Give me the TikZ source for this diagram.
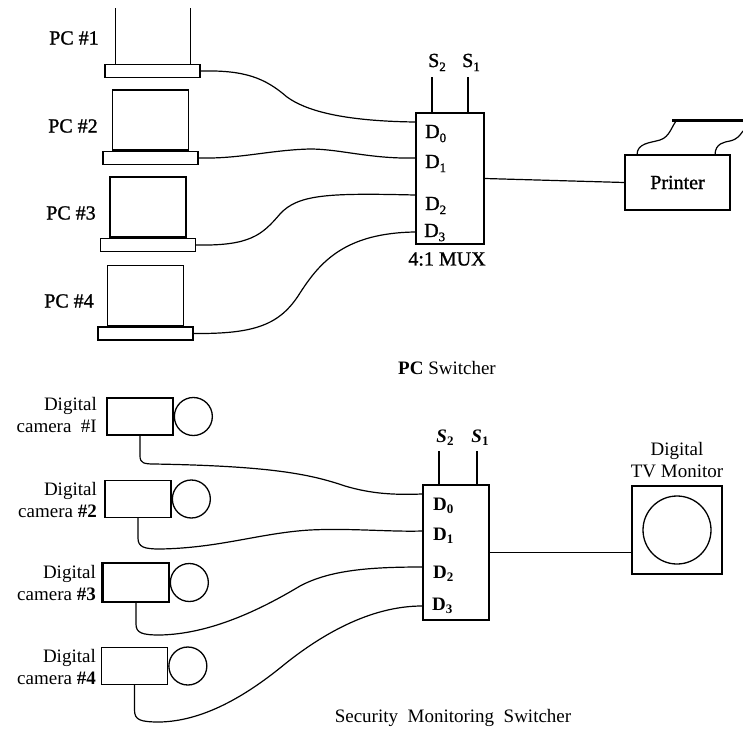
\documentclass[tikz,border=0pt]{standalone}
\usepackage{fontspec}
\setmainfont{Liberation Serif}
\newfontfamily\inkfont[FakeBold=1.2]{Liberation Serif}
\usetikzlibrary{positioning}
% lowered index for port and select names
\newcommand\portidx[1]{\raisebox{-0.45ex}{\fontsize{13}{13}\selectfont #1}}
\begin{document}
\begin{tikzpicture}[x=1pt,y=-1pt,
  wire/.style={line width=1.2pt, line cap=round, line join=round},
  box/.style={draw, rectangle, line width=1.4pt, inner sep=0pt},
  pcscreen/.style={box, minimum width=76pt, minimum height=60pt},
  pcbase/.style={box, minimum width=95pt, minimum height=13pt},
  muxbox/.style={draw, rectangle, line width=2pt, inner sep=0pt},
  selline/.style={line width=2.2pt},
  cambody/.style={box, minimum width=66pt, minimum height=37pt},
  lens/.style={draw, circle, line width=1.3pt, inner sep=0pt, minimum size=38pt},
  toplbl/.style={font=\inkfont\fontsize{20}{22}\selectfont, inner sep=0pt},
  botlbl/.style={font=\fontsize{19}{22}\selectfont, inner sep=0pt},
]
\useasboundingbox (0,0) rectangle (743,731);

% ---------------- PC switcher ----------------
\node[pcbase] (pc1base) at (152.5,71) {};
\draw[line width=1.4pt] ([xshift=-37pt]pc1base.north) -- ++(0,-56)
                        ([xshift=38pt]pc1base.north) -- ++(0,-56);
\node[pcbase] (pc2base) at (150.5,158) {};
\node[pcscreen, above=0pt of pc2base] (pc2) {};
\node[pcbase] (pc3base) at (148,245) {};
\node[pcscreen, above=0pt of pc3base] (pc3) {};
\node[pcbase] (pc4base) at (145.5,333.5) {};
\node[pcscreen, above=0pt of pc4base] (pc4) {};

\node[toplbl] (pc1lbl) at (74,38) {PC \#1};
\node[toplbl] (pc2lbl) at (73,126) {PC \#2};
\node[toplbl] (pc3lbl) at (71,213) {PC \#3};
\node[toplbl] (pc4lbl) at (69,301) {PC \#4};

\node[muxbox, minimum width=68pt, minimum height=131pt] (muxA) at (450,178.5) {};
\path (muxA.north west) ++(0,10)  coordinate (a0)
      (muxA.north west) ++(0,46)  coordinate (a1)
      (muxA.north west) ++(0,83)  coordinate (a2)
      (muxA.north west) ++(0,120) coordinate (a3)
      (muxA.north west) ++(17,0)  coordinate (sa2)
      (muxA.north west) ++(53,0)  coordinate (sa1);
\draw[selline] (sa2) -- ++(0,-35) coordinate (sa2top);
\draw[selline] (sa1) -- ++(0,-35) coordinate (sa1top);
\node[toplbl, anchor=base] at (437,67) {S\portidx{2}};
\node[toplbl, anchor=base] at (471,67) {S\portidx{1}};
\node[toplbl, anchor=base west] at (425,138) {D\portidx{0}};
\node[toplbl, anchor=base west] at (425,168) {D\portidx{1}};
\node[toplbl, anchor=base west] at (425,210) {D\portidx{2}};
\node[toplbl, anchor=base west] at (424,237) {D\portidx{3}};
\node[toplbl] (muxAlbl) at (447,259) {4:1 MUX};

\draw[wire] (pc1base.east) .. controls (245,70) and (265,78) .. (287,97)
            .. controls (305,110) and (340,121) .. (a0);
\draw[wire] (pc2base.east) .. controls (240,159) and (270,150) .. (310,149)
            .. controls (340,149) and (370,159) .. (a1);
\draw[wire] (pc3base.east) .. controls (250,246) and (262,235) .. (280,214)
            .. controls (298,194) and (330,193) .. (a2);
\draw[wire] (pc4base.east) .. controls (255,334) and (280,325) .. (300,293)
            .. controls (320,262) and (345,233) .. (a3);

% printer with its paper feed
\node[box, minimum width=105pt, minimum height=55pt, toplbl] (printer) at (677.5,182.5) {Printer};
\draw[wire] (muxA.east) -- (printer.west);
\draw[line width=3pt] (672,120) -- (743,120);
\draw[wire] (637,155) .. controls (637,143) and (650,143) .. (660,140)
            .. controls (670,137) and (672,125) .. (677,120);
\draw[wire] (715,155) .. controls (715,143) and (725,142) .. (730,141)
            .. controls (738,139) and (740,135) .. (743,131);

\node[botlbl] (title1) at (447,368) {\textbf{PC} Switcher};

% ---------------- Security monitoring switcher ----------------
\node[cambody] (cam1) at (140,416.5) {};
\node[lens, right=0pt of cam1] (lens1) {};
\node[cambody] (cam2) at (138,499) {};
\node[lens, right=0pt of cam2] (lens2) {};
\node[cambody, minimum height=39pt] (cam3) at (136,582.5) {};
\node[lens, right=0pt of cam3] (lens3) {};
\draw[line width=2.6pt] (cam3.north west) -- (cam3.south west);
\node[cambody] (cam4) at (134.5,666) {};
\node[lens, right=0pt of cam4] (lens4) {};

\node[botlbl, anchor=east, align=right] (cam1lbl) at (97,415) {Digital\\camera~ \#I};
\node[botlbl, anchor=east, align=right] (cam2lbl) at (97,500) {Digital\\camera \textbf{\#2}};
\node[botlbl, anchor=east, align=right] (cam3lbl) at (96,583) {Digital\\camera \textbf{\#3}};
\node[botlbl, anchor=east, align=right] (cam4lbl) at (96,667) {Digital\\camera \textbf{\#4}};

\node[muxbox, minimum width=66pt, minimum height=135pt] (muxB) at (456,552.5) {};
\path (muxB.north west) ++(0,10)  coordinate (b0)
      (muxB.north west) ++(0,47)  coordinate (b1)
      (muxB.north west) ++(0,83)  coordinate (b2)
      (muxB.north west) ++(0,122) coordinate (b3)
      (muxB.north west) ++(17,0)  coordinate (sb2)
      (muxB.north west) ++(55,0)  coordinate (sb1);
\draw[selline] (sb2) -- ++(0,-33);
\draw[selline] (sb1) -- ++(0,-33);
\node[botlbl, anchor=base] at (445,442) {\textbf{\textit{S}}\portidx{\textbf{2}}};
\node[botlbl, anchor=base] at (480,442) {\textbf{\textit{S}}\portidx{\textbf{1}}};
\node[botlbl, anchor=base west] at (433,510) {\textbf{D}\portidx{\textbf{0}}};
\node[botlbl, anchor=base west] at (433,540) {\textbf{D}\portidx{\textbf{1}}};
\node[botlbl, anchor=base west] at (433,578) {\textbf{D}\portidx{\textbf{2}}};
\node[botlbl, anchor=base west] at (432,610) {\textbf{D}\portidx{\textbf{3}}};

\draw[wire] (cam1.south) -- (140,456) .. controls (140,463) and (144,464) .. (154,464)
            .. controls (270,466) and (310,474) .. (345,486)
            .. controls (372,494) and (395,495) .. (b0);
\draw[wire] (cam2.south) -- (138,538) .. controls (138,547) and (144,549) .. (160,549)
            .. controls (220,548) and (260,533) .. (310,530)
            .. controls (350,528) and (390,532) .. (b1);
\draw[wire] (cam3.south) -- (136,624) .. controls (136,633) and (142,635) .. (160,635)
            .. controls (210,634) and (260,610) .. (300,586)
            .. controls (330,570) and (370,567) .. (b2);
\draw[wire] (cam4.south) -- (134.5,710) .. controls (134.5,720) and (140,722) .. (160,722)
            .. controls (200,721) and (240,700) .. (280,668)
            .. controls (320,635) and (370,606) .. (b3);

% digital TV monitor
\node[box, minimum width=90pt, minimum height=88pt] (monitor) at (677,530) {};
\node[draw, circle, line width=1.3pt, inner sep=0pt, minimum size=68pt] (screen) at (monitor.center) {};
\node[botlbl, align=center, above=7pt of monitor] (monlbl) {Digital\\TV Monitor};
\draw[wire] (muxB.east) -- (muxB.east -| monitor.west);

\node[botlbl] (title2) at (453,718) {Security~ Monitoring~ Switcher};
\end{tikzpicture}
\end{document}
